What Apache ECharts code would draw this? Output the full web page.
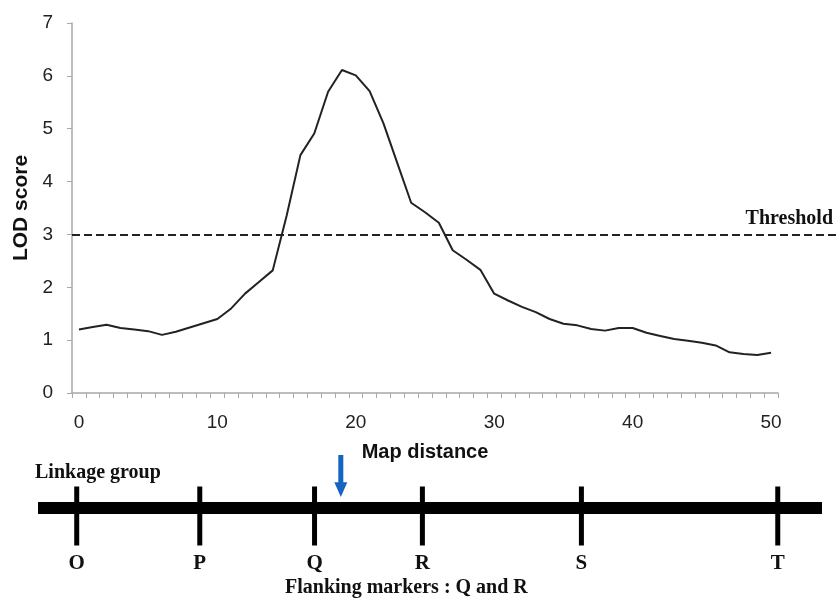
<!DOCTYPE html>
<html>
<head>
<meta charset="utf-8">
<script src="https://cdn.jsdelivr.net/npm/echarts@6.0.0/dist/echarts.min.js"></script>
<style>
html,body{margin:0;padding:0;background:#fff;}
#chart{width:840px;height:602px;}
</style>
</head>
<body>
<div id="chart"></div>
<script>
// ---- data ----
const mapDistance = ['0','1','2','3','4','5','6','7','8','9','10','11','12','13','14','15','16','17','18','19','20','21','22','23','24','25','26','27','28','29','30','31','32','33','34','35','36','37','38','39','40','41','42','43','44','45','46','47','48','49','50'];
const lodScore = [1.20,1.25,1.29,1.23,1.20,1.17,1.10,1.16,1.24,1.32,1.40,1.60,1.88,2.10,2.32,3.35,4.50,4.91,5.70,6.11,6.01,5.71,5.10,4.35,3.60,3.42,3.22,2.70,2.52,2.33,1.88,1.75,1.63,1.53,1.40,1.31,1.28,1.21,1.18,1.23,1.23,1.14,1.08,1.02,0.99,0.95,0.90,0.77,0.74,0.72,0.76];
const threshold = 3;
const yTicks = [0, 7];             // y axis range (interval 1)
const markerNames = ['O','P','Q','R','S','T'];
const markerPos = [-0.2, 8.7, 17.0, 24.8, 36.3, 50.5];   // in map-distance units
const linkageExtent = [-3, 53.7];
const qtlPos = 18.9;

const serifBold = {fontFamily: '"Liberation Serif","Times New Roman",serif', fontWeight: 'bold', color: '#111'};

const chart = echarts.init(document.getElementById('chart'), null, {renderer: 'canvas'});
chart.setOption({
  animation: false,
  backgroundColor: '#fff',
  grid: [
    {left: 72, right: 62, top: 23, bottom: 209, containLabel: false},
    {left: 72, right: 0, top: 23, bottom: 209, containLabel: false},
    {left: 38, right: 18, top: 440, height: 120, containLabel: false}
  ],
  xAxis: [
    {
      gridIndex: 0, type: 'category', data: mapDistance, boundaryGap: true,
      name: 'Map distance', nameLocation: 'middle', nameGap: 49,
      nameTextStyle: {fontFamily: '"Liberation Sans",Arial,sans-serif', fontWeight: 'bold', fontSize: 20, color: '#111'},
      axisLine: {lineStyle: {color: '#a8a8a8', width: 1.5}},
      axisTick: {show: true, interval: 0, length: 5, lineStyle: {color: '#a8a8a8'}},
      axisLabel: {interval: 9, margin: 20, fontFamily: '"Liberation Sans",Arial,sans-serif', fontSize: 19, color: '#222'},
      splitLine: {show: false}
    },
    {gridIndex: 1, type: 'value', min: 0, max: 1, show: false},
    {gridIndex: 2, type: 'value', min: linkageExtent[0], max: linkageExtent[1], show: false}
  ],
  yAxis: [
    {
      gridIndex: 0, type: 'value', min: yTicks[0], max: yTicks[1], interval: 1,
      name: 'LOD score', nameLocation: 'middle', nameGap: 37, nameRotate: 90,
      nameTextStyle: {fontFamily: '"Liberation Sans",Arial,sans-serif', fontWeight: 'bold', fontSize: 21, color: '#111'},
      axisLine: {show: true, lineStyle: {color: '#a8a8a8', width: 1.5}},
      axisTick: {show: true, length: 5, lineStyle: {color: '#a8a8a8'}},
      axisLabel: {margin: 19, fontFamily: '"Liberation Sans",Arial,sans-serif', fontSize: 19, color: '#222'},
      splitLine: {show: false}
    },
    {gridIndex: 1, type: 'value', min: yTicks[0], max: yTicks[1], show: false},
    {gridIndex: 2, type: 'value', min: 0, max: 12, inverse: true, show: false}
  ],
  series: [
    {
      type: 'line', xAxisIndex: 0, yAxisIndex: 0, data: lodScore,
      symbol: 'none', smooth: false,
      lineStyle: {color: '#222', width: 2}
    },
    {
      type: 'line', xAxisIndex: 1, yAxisIndex: 1, data: [],
      symbol: 'none',
      markLine: {
        silent: true, symbol: ['none', 'none'],
        lineStyle: {color: '#222', width: 2, type: [8, 4]},
        label: Object.assign({show: true, position: 'insideEndTop', formatter: 'Threshold', fontSize: 20, distance: [7, 6]}, serifBold),
        data: [{yAxis: threshold}]
      }
    },
    {
      type: 'line', xAxisIndex: 2, yAxisIndex: 2,
      data: [[linkageExtent[0], 6.8], [linkageExtent[1], 6.8]],
      symbol: 'none', clip: false,
      lineStyle: {color: '#000', width: 12, cap: 'butt'}
    },
    {
      type: 'scatter', xAxisIndex: 2, yAxisIndex: 2,
      data: markerNames.map((n, i) => ({name: n, value: [markerPos[i], 7.6]})),
      symbol: 'rect', symbolSize: [5, 59],
      itemStyle: {color: '#000', opacity: 1},
      label: Object.assign({show: true, position: 'bottom', distance: 8, formatter: '{b}', fontSize: 21, opacity: 1}, serifBold)
    },
    {
      type: 'scatter', xAxisIndex: 2, yAxisIndex: 2,
      data: [[qtlPos, 3.6]],
      symbol: 'path://M4,0 L9,0 L9,26 L13,26 L6.5,40 L0,26 L4,26 Z', symbolSize: [13, 42],
      itemStyle: {color: '#1565c0', opacity: 1}
    }
  ],
  graphic: [
    {type: 'text', left: 35, top: 463, style: {text: 'Linkage group', font: 'bold 20px "Liberation Serif"', fill: '#111'}},
    {type: 'text', left: 285, top: 578, style: {text: 'Flanking markers : Q and R', font: 'bold 20px "Liberation Serif"', fill: '#111'}}
  ]
});
</script>
</body>
</html>
